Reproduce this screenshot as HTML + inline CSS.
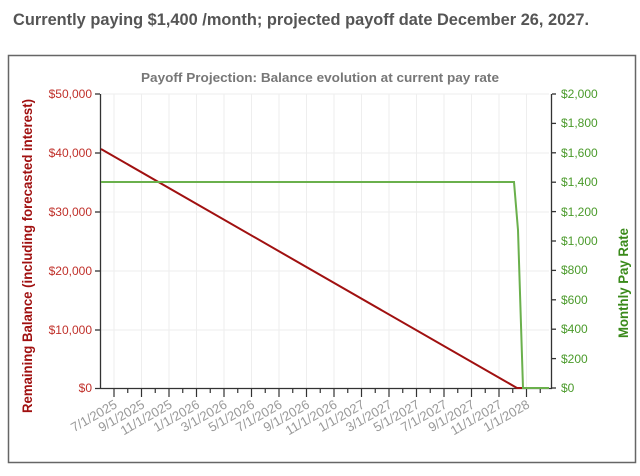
<!DOCTYPE html>
<html><head><meta charset="utf-8"><style>
body{margin:0;background:#fff;width:640px;height:471px;overflow:hidden;font-family:"Liberation Sans",Arial,sans-serif}
</style></head><body>
<svg width="640" height="471" xmlns="http://www.w3.org/2000/svg" font-family="Liberation Sans, Arial, sans-serif">
<text x="13" y="25" font-size="16.5" font-weight="bold" fill="#555" textLength="576" lengthAdjust="spacingAndGlyphs">Currently paying $1,400 /month; projected payoff date December 26, 2027.</text>
<rect x="8.5" y="55.5" width="627" height="407" fill="#fff" stroke="#666" stroke-width="1.5"/>
<text x="320" y="82" text-anchor="middle" font-size="13" font-weight="bold" fill="#777" textLength="358" lengthAdjust="spacingAndGlyphs">Payoff Projection:  Balance evolution at current pay rate</text>
<g stroke="#eee" stroke-width="1">
<line x1="101" y1="153" x2="549" y2="153"/><line x1="101" y1="212" x2="549" y2="212"/>
<line x1="101" y1="271" x2="549" y2="271"/><line x1="101" y1="330" x2="549" y2="330"/>
<line x1="101" y1="94" x2="549" y2="94"/>
<line x1="114" y1="94" x2="114" y2="388"/><line x1="141.5" y1="94" x2="141.5" y2="388"/><line x1="169" y1="94" x2="169" y2="388"/><line x1="196.5" y1="94" x2="196.5" y2="388"/><line x1="224" y1="94" x2="224" y2="388"/><line x1="251.5" y1="94" x2="251.5" y2="388"/><line x1="279" y1="94" x2="279" y2="388"/><line x1="306.5" y1="94" x2="306.5" y2="388"/><line x1="334" y1="94" x2="334" y2="388"/><line x1="361.5" y1="94" x2="361.5" y2="388"/><line x1="389" y1="94" x2="389" y2="388"/><line x1="416.5" y1="94" x2="416.5" y2="388"/><line x1="444" y1="94" x2="444" y2="388"/><line x1="471.5" y1="94" x2="471.5" y2="388"/><line x1="499" y1="94" x2="499" y2="388"/><line x1="526.5" y1="94" x2="526.5" y2="388"/>
</g>
<g stroke="#333" stroke-width="1.3">
<line x1="100.5" y1="94" x2="100.5" y2="389"/><line x1="551.5" y1="94" x2="551.5" y2="389"/>
<line x1="95" y1="388.5" x2="552" y2="388.5"/>
<line x1="95" y1="94" x2="100" y2="94"/><line x1="95" y1="153" x2="100" y2="153"/><line x1="95" y1="212" x2="100" y2="212"/><line x1="95" y1="271" x2="100" y2="271"/><line x1="95" y1="330" x2="100" y2="330"/>
<line x1="552" y1="94" x2="556" y2="94"/><line x1="552" y1="123.4" x2="556" y2="123.4"/><line x1="552" y1="152.8" x2="556" y2="152.8"/><line x1="552" y1="182.2" x2="556" y2="182.2"/><line x1="552" y1="211.6" x2="556" y2="211.6"/><line x1="552" y1="241" x2="556" y2="241"/><line x1="552" y1="270.4" x2="556" y2="270.4"/><line x1="552" y1="299.8" x2="556" y2="299.8"/><line x1="552" y1="329.2" x2="556" y2="329.2"/><line x1="552" y1="358.6" x2="556" y2="358.6"/><line x1="552" y1="388" x2="556" y2="388"/>
</g>
<g stroke="#333" stroke-width="1.2" id="ticks"></g>
<g font-size="12" fill="#c0302a" text-anchor="end">
<text x="92" y="98">$50,000</text><text x="92" y="157">$40,000</text><text x="92" y="216">$30,000</text><text x="92" y="275">$20,000</text><text x="92" y="334">$10,000</text><text x="92" y="392">$0</text>
</g>
<g font-size="12" fill="#4a9a2a">
<text x="561" y="98">$2,000</text><text x="561" y="127">$1,800</text><text x="561" y="157">$1,600</text><text x="561" y="186">$1,400</text><text x="561" y="216">$1,200</text><text x="561" y="245">$1,000</text><text x="561" y="274">$800</text><text x="561" y="304">$600</text><text x="561" y="333">$400</text><text x="561" y="363">$200</text><text x="561" y="392">$0</text>
</g>
<text transform="translate(32,256) rotate(-90)" text-anchor="middle" font-size="14" font-weight="bold" fill="#a01010" textLength="314" lengthAdjust="spacingAndGlyphs">Remaining Balance (including forecasted interest)</text>
<text transform="translate(628,283) rotate(-90)" text-anchor="middle" font-size="14" font-weight="bold" fill="#3a8a1a" textLength="110" lengthAdjust="spacingAndGlyphs">Monthly Pay Rate</text>
<g font-size="13" fill="#999" text-anchor="end" id="xl"></g>
<polyline points="101,149 517,388 523,388" fill="none" stroke="#a01010" stroke-width="2"/>
<polyline points="101,182 514,182 518,230 523,388 549,388" fill="none" stroke="#6ab04c" stroke-width="2"/>
<script>
var t=document.getElementById('ticks'),xl=document.getElementById('xl');
var labels=["7/1/2025","9/1/2025","11/1/2025","1/1/2026","3/1/2026","5/1/2026","7/1/2026","9/1/2026","11/1/2026","1/1/2027","3/1/2027","5/1/2027","7/1/2027","9/1/2027","11/1/2027","1/1/2028"];
for(var i=0;i<33;i++){var x=114+i*13.75;if(x>550)break;var l=document.createElementNS('http://www.w3.org/2000/svg','line');
l.setAttribute('x1',x);l.setAttribute('x2',x);l.setAttribute('y1',389);l.setAttribute('y2',i%2?393:397);t.appendChild(l);
if(i%2==0&&labels[i/2]){var tx=document.createElementNS('http://www.w3.org/2000/svg','text');tx.setAttribute('transform','translate('+(x+4)+',407) rotate(-30)');tx.textContent=labels[i/2];xl.appendChild(tx);}}
</script>
</svg>
</body></html>
